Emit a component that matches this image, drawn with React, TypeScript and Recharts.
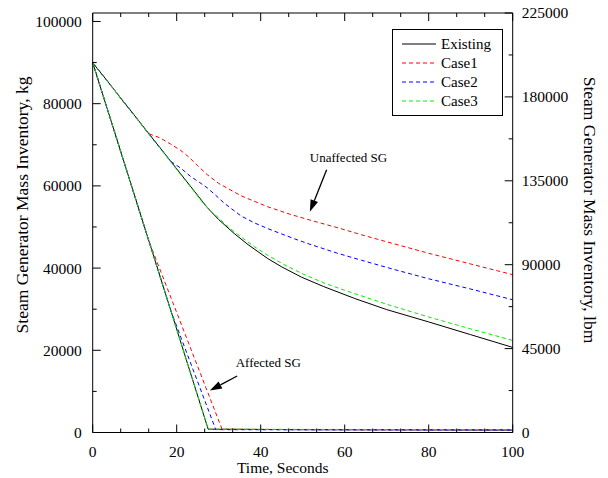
import React from 'react';
import { LineChart, Line, XAxis, YAxis, ReferenceLine, ReferenceDot, Label } from 'recharts';

const FONT = '"Liberation Serif", "Times New Roman", serif';

// tick values
const timeMajor = [0, 20, 40, 60, 80, 100];
const timeAll = Array.from({ length: 16 }, (_, i) => (i * 20) / 3);
const kgMajor = [0, 20000, 40000, 60000, 80000, 100000];
const kgAll = [0, 10000, 20000, 30000, 40000, 50000, 60000, 70000, 80000, 90000, 100000];
const lbmMajor = [0, 45000, 90000, 135000, 180000, 225000];
const lbmAll = [0, 22500, 45000, 67500, 90000, 112500, 135000, 157500, 180000, 202500, 225000];
const KG_TO_LBM = 2.20462;

// [time s, mass kg]
const existingUnaffected = [
  [0, 90000], [27.3, 54700], [30, 51800], [33.7, 48400], [37, 45700], [41.7, 42300],
  [45, 40300], [49.7, 37800], [55, 35500], [62.4, 32600], [70, 29900], [80, 26900],
  [90, 23800], [100, 20700],
];
const existingAffected = [[0, 90000], [27.5, 800], [50, 700], [100, 600]];

const case1Unaffected = [
  [0, 90000], [13.3, 72700], [16, 71700], [18.5, 70200], [21, 68600], [23, 66900],
  [25, 64900], [27.3, 62700], [30, 60600], [35.3, 57600], [41.7, 54900], [47.3, 53000],
  [52, 51600], [58.4, 49800], [64, 48100], [70, 46400], [80, 43600], [90, 41000], [100, 38400],
];
const case1Affected = [[0, 90000], [13.3, 46800], [30.8, 800], [50, 700], [100, 650]];

const case2Unaffected = [
  [0, 90000], [18.5, 66000], [21, 64300], [23.3, 62300], [25.5, 60800], [27.3, 59500],
  [29.3, 57700], [31.3, 55800], [35.3, 52700], [38.5, 51000], [41.7, 49600], [45, 48300],
  [48.9, 46800], [52, 45700], [58, 43700], [64, 41900], [72, 39600], [80, 37400],
  [90, 34900], [100, 32300],
];
const case2Affected = [[0, 90000], [18.5, 29900], [29.3, 700], [50, 650], [100, 600]];

const case3Unaffected = [
  [0, 90000], [26, 56200], [28, 54000], [30, 52200], [32.5, 49800], [35.3, 47600],
  [38.5, 45200], [41.7, 43100], [46, 40600], [50, 38600], [55, 36400], [60, 34600],
  [70, 31200], [80, 28100], [90, 25200], [100, 22400],
];
const case3Affected = [[0, 90000], [27.5, 800], [50, 750], [100, 700]];

const seriesInfo = [
  { name: 'Existing', color: '#000000', dash: undefined, parts: [existingUnaffected, existingAffected] },
  { name: 'Case1', color: '#ff0000', dash: '4 3', parts: [case1Unaffected, case1Affected] },
  { name: 'Case2', color: '#0000ff', dash: '4 3', parts: [case2Unaffected, case2Affected] },
  { name: 'Case3', color: '#00ee00', dash: '4 3', parts: [case3Unaffected, case3Affected] },
];

const toRows = (pts: number[][]) => pts.map(([t, kg]) => ({ t, kg, lbm: kg * KG_TO_LBM }));

const isMajor = (list: number[], v: number) => list.some((m) => Math.abs(m - v) < 1e-6);

const MARGIN = { bottom: 13, left: 11, right: 9, top: 0 };

const BottomTick = (p: any) => {
  const v = p.payload.value;
  const major = isMajor(timeMajor, v);
  const ay = p.y - MARGIN.bottom;
  return (
    <g>
      <line x1={p.x} x2={p.x} y1={ay} y2={ay - (major ? 8 : 4)} stroke="#000" />
      {major && (
        <text x={p.x} y={ay + 24} textAnchor="middle" fontFamily={FONT} fontSize={15.5} fill="#000">
          {v}
        </text>
      )}
    </g>
  );
};

const TopTick = (p: any) => {
  const v = p.payload.value;
  const major = isMajor(timeMajor, v);
  const ay = p.y + MARGIN.bottom;
  return <line x1={p.x} x2={p.x} y1={ay} y2={ay + (major ? 8 : 4)} stroke="#000" />;
};

const LeftTick = (p: any) => {
  const v = p.payload.value;
  const major = isMajor(kgMajor, v);
  const ax = p.x + MARGIN.left;
  return (
    <g>
      <line x1={ax} x2={ax + (major ? 8 : 4)} y1={p.y} y2={p.y} stroke="#000" />
      {major && (
        <text x={p.x} y={p.y} dy="0.35em" textAnchor="end" fontFamily={FONT} fontSize={15.5} fill="#000">
          {v}
        </text>
      )}
    </g>
  );
};

const RightTick = (p: any) => {
  const v = p.payload.value;
  const major = isMajor(lbmMajor, v);
  const ax = p.x - MARGIN.right;
  return (
    <g>
      <line x1={ax} x2={ax - (major ? 8 : 4)} y1={p.y} y2={p.y} stroke="#000" />
      {major && (
        <text x={p.x} y={p.y} dy="0.35em" textAnchor="start" fontFamily={FONT} fontSize={15.5} fill="#000">
          {v}
        </text>
      )}
    </g>
  );
};

const Arrow = (p: any) => {
  const { x1, y1, x2, y2 } = p;
  const ang = Math.atan2(y2 - y1, x2 - x1);
  const L = 12;
  const W = 4;
  const bx = x2 - L * Math.cos(ang);
  const by = y2 - L * Math.sin(ang);
  const nx = -Math.sin(ang) * W;
  const ny = Math.cos(ang) * W;
  return (
    <g>
      <line x1={x1} y1={y1} x2={bx} y2={by} stroke="#000" strokeWidth={1.3} />
      <polygon points={`${x2},${y2} ${bx + nx},${by + ny} ${bx - nx},${by - ny}`} fill="#000" />
    </g>
  );
};

const note = (text: string) => (p: any) => (
  <text x={p.cx} y={p.cy} textAnchor="middle" fontFamily={FONT} fontSize={13} fill="#000">
    {text}
  </text>
);

const Legend = () => (
  <svg width={112} height={88} style={{ position: 'absolute', left: 392, top: 29 }}>
    <rect x={0.5} y={0.5} width={110} height={86} fill="#fff" stroke="#000" />
    {seriesInfo.map((s, i) => {
      const y = 15 + i * 19;
      return (
        <g key={s.name}>
          <line x1={10} x2={44} y1={y} y2={y} stroke={s.color} strokeDasharray={s.dash} />
          <text x={49} y={y + 5} fontFamily={FONT} fontSize={15} fill="#000">
            {s.name}
          </text>
        </g>
      );
    })}
  </svg>
);

export default function App() {
  return (
    <div style={{ position: 'absolute', left: 0, top: 0, width: 608, height: 478, background: '#fff' }}>
      <LineChart width={608} height={478} margin={{ top: 0, right: 0, bottom: 0, left: 0 }}>
        <XAxis
          dataKey="t"
          type="number"
          domain={[0, 100]}
          ticks={timeAll}
          interval={0}
          height={45.5}
          tickSize={0}
          tickMargin={MARGIN.bottom}
          tickLine={false}
          axisLine={{ stroke: '#000' }}
          tick={(p: any) => <BottomTick {...p} />}
        >
          <Label
            content={(p: any) => {
              const vb = p.viewBox;
              return (
                <text x={vb.x + vb.width / 2 - 20} y={vb.y + 40} textAnchor="middle" fontFamily={FONT} fontSize={15.5} fill="#000">
                  Time, Seconds
                </text>
              );
            }}
          />
        </XAxis>
        <XAxis
          xAxisId="top"
          dataKey="t"
          type="number"
          orientation="top"
          domain={[0, 100]}
          ticks={timeAll}
          interval={0}
          height={13}
          tickSize={0}
          tickMargin={MARGIN.bottom}
          tickLine={false}
          axisLine={{ stroke: '#000' }}
          includeHidden
          tick={(p: any) => <TopTick {...p} />}
        />
        <YAxis
          yAxisId="kg"
          type="number"
          domain={[0, 102060]}
          ticks={kgAll}
          interval={0}
          width={92.7}
          tickSize={0}
          tickMargin={MARGIN.left}
          tickLine={false}
          axisLine={{ stroke: '#000' }}
          tick={(p: any) => <LeftTick {...p} />}
        >
          <Label
            content={(p: any) => {
              const vb = p.viewBox;
              const cx = vb.x + 28;
              const cy = 205;
              return (
                <text x={cx} y={cy} transform={`rotate(-90 ${cx} ${cy})`} textAnchor="middle" fontFamily={FONT} fontSize={17.5} fill="#000">
                  Steam Generator Mass Inventory, kg
                </text>
              );
            }}
          />
        </YAxis>
        <YAxis
          yAxisId="lbm"
          orientation="right"
          type="number"
          domain={[0, 225000]}
          ticks={lbmAll}
          interval={0}
          width={95.3}
          tickSize={0}
          tickMargin={MARGIN.right}
          tickLine={false}
          axisLine={{ stroke: '#000' }}
          includeHidden
          tick={(p: any) => <RightTick {...p} />}
        >
          <Label
            content={(p: any) => {
              const vb = p.viewBox;
              const cx = vb.x + 71;
              const cy = 210;
              return (
                <text x={cx} y={cy} transform={`rotate(90 ${cx} ${cy})`} textAnchor="middle" fontFamily={FONT} fontSize={17.5} fill="#000">
                  Steam Generator Mass Inventory, lbm
                </text>
              );
            }}
          />
        </YAxis>
        {seriesInfo.flatMap((s) =>
          s.parts.map((part, j) => (
            <Line
              key={`${s.name}-${j}`}
              yAxisId="kg"
              data={toRows(part)}
              dataKey="kg"
              type="linear"
              stroke={s.color}
              strokeWidth={1}
              strokeDasharray={s.dash}
              dot={false}
              activeDot={false}
              isAnimationActive={false}
            />
          ))
        )}
        {/* hidden copy in lbm so the top and right axes get a series */}
        <Line
          xAxisId="top"
          yAxisId="lbm"
          data={toRows(existingUnaffected)}
          dataKey="lbm"
          hide
          dot={false}
          activeDot={false}
          legendType="none"
          isAnimationActive={false}
        />
        <ReferenceLine yAxisId="kg" segment={[{ x: 55.7, y: 63900 }, { x: 51.7, y: 53700 }]} shape={Arrow} />
        <ReferenceLine yAxisId="kg" segment={[{ x: 34.4, y: 13750 }, { x: 27.9, y: 10200 }]} shape={Arrow} />
        <ReferenceDot yAxisId="kg" x={60.9} y={65880} r={0} shape={note('Unaffected SG')} />
        <ReferenceDot yAxisId="kg" x={41.8} y={16000} r={0} shape={note('Affected SG')} />
      </LineChart>
      <Legend />
    </div>
  );
}
